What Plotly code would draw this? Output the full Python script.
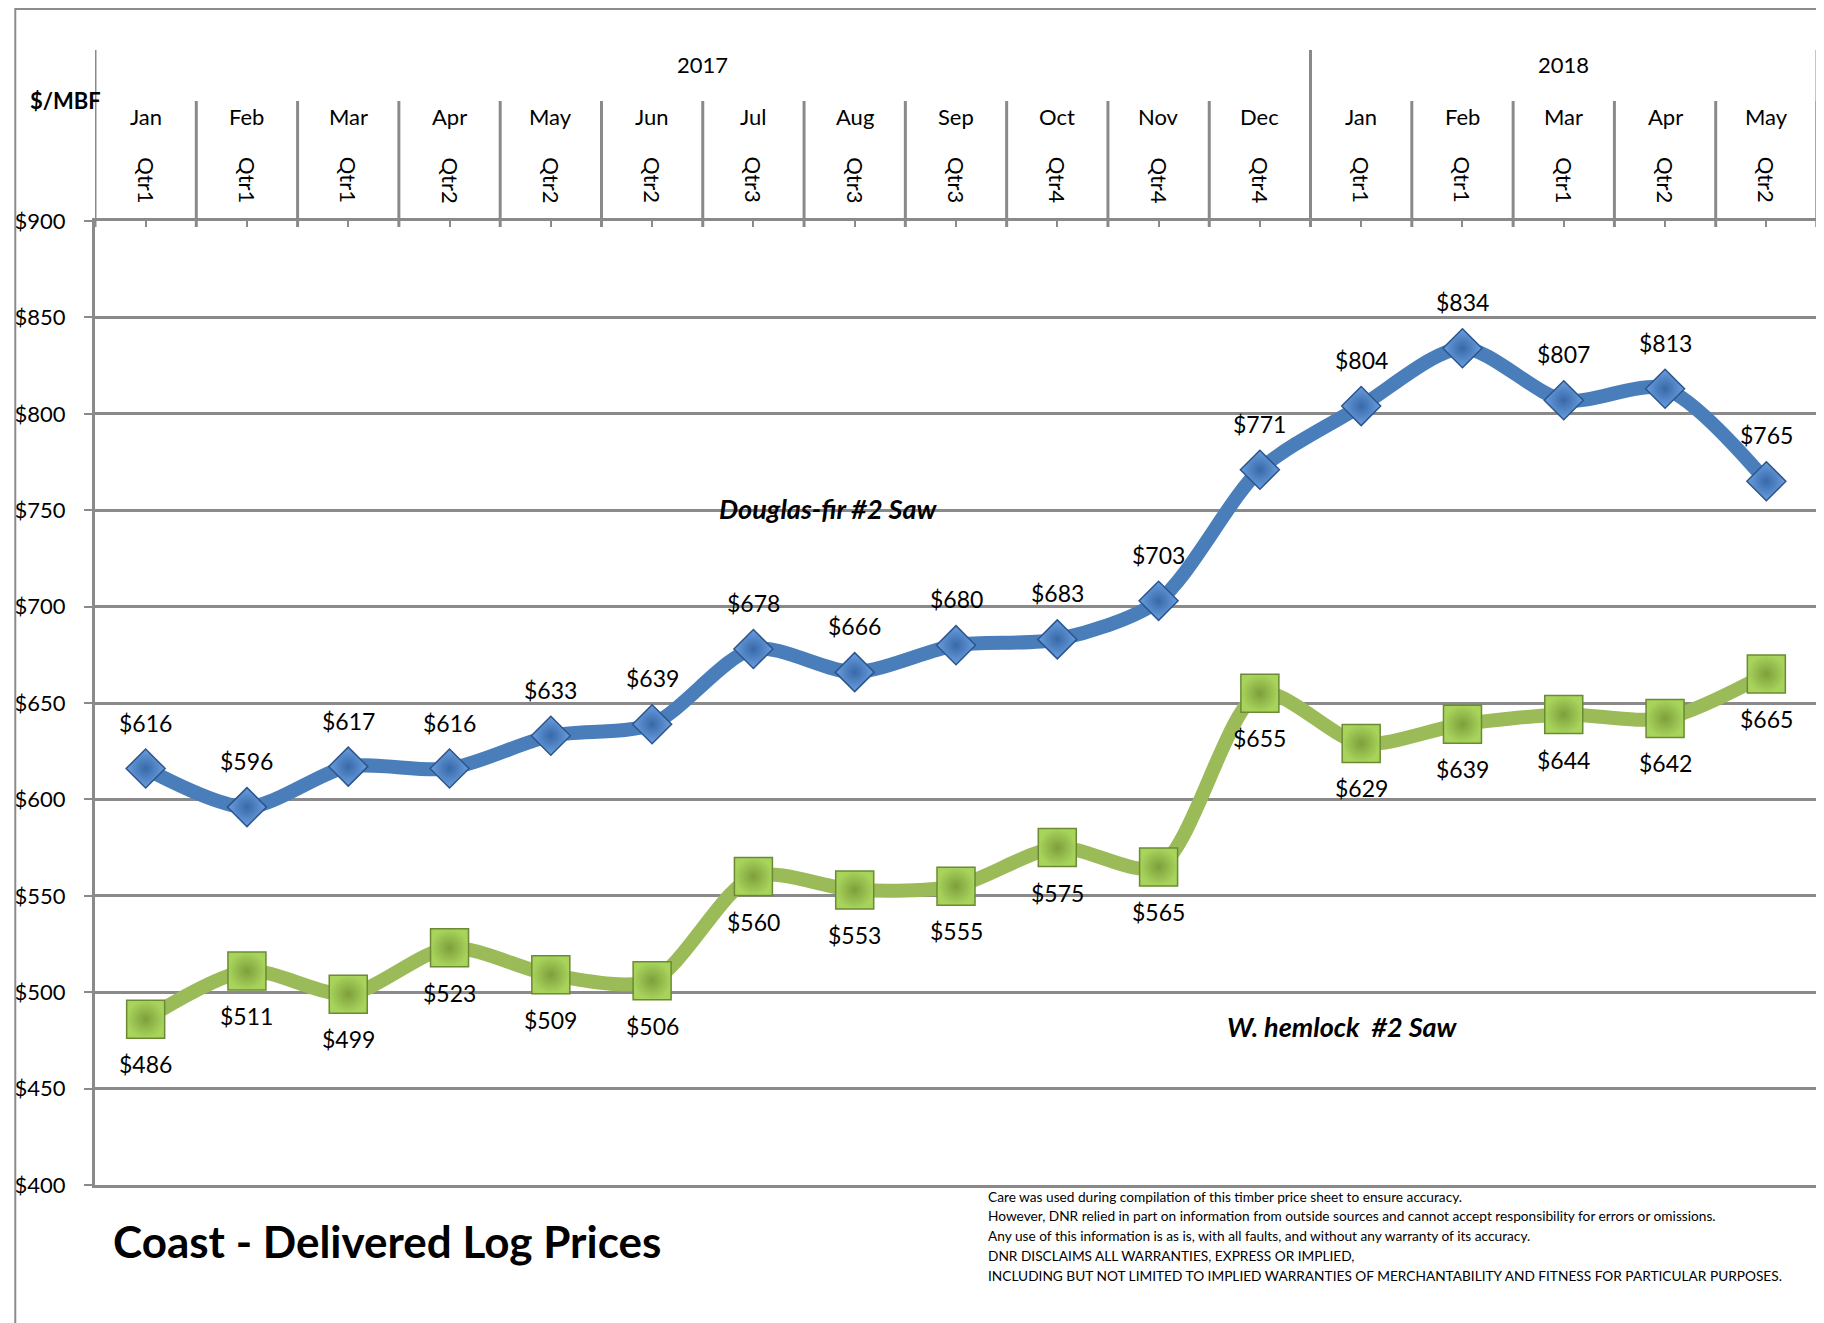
import plotly.graph_objects as go

# ---------------- data ----------------
months = ["Jan", "Feb", "Mar", "Apr", "May", "Jun", "Jul", "Aug", "Sep", "Oct", "Nov", "Dec",
          "Jan", "Feb", "Mar", "Apr", "May"]
quarters = ["Qtr1", "Qtr1", "Qtr1", "Qtr2", "Qtr2", "Qtr2", "Qtr3", "Qtr3", "Qtr3",
            "Qtr4", "Qtr4", "Qtr4", "Qtr1", "Qtr1", "Qtr1", "Qtr2", "Qtr2"]
years = ["2017", "2018"]
year_counts = [12, 5]
douglas_fir = [616, 596, 617, 616, 633, 639, 678, 666, 680, 683, 703, 771, 804, 834, 807, 813, 765]
hemlock = [486, 511, 499, 523, 509, 506, 560, 553, 555, 575, 565, 655, 629, 639, 644, 642, 665]
y_ticks = [400, 450, 500, 550, 600, 650, 700, 750, 800, 850, 900]

disclaimer = [
    "Care was used during compilation of this timber price sheet to ensure accuracy.",
    "However, DNR relied in part on information from outside sources and cannot accept responsibility for errors or omissions.",
    "Any use of this information is as is, with all faults, and without any warranty of its accuracy.",
    "DNR DISCLAIMS ALL WARRANTIES, EXPRESS OR IMPLIED,",
    "INCLUDING BUT NOT LIMITED TO IMPLIED WARRANTIES OF MERCHANTABILITY AND FITNESS FOR PARTICULAR PURPOSES.",
]

FONT = "Lato"
GRID = "#8A8A8A"
OFF = 8  # page body margin
W, H = 1824 - OFF, 1323 - OFF
# plot area in page pixels: x 89..1817, y 221..1185
L, R, T, B = 89 - OFF, W - (1817 - OFF), 221 - OFF, H - (1185 - OFF)
PW, PH = W - L - R, H - T - B


def py(pix):  # page pixel row -> paper y
    return (H - B - (pix - OFF)) / PH


def px(pix):  # page pixel col -> paper x
    return ((pix - OFF) - L) / PW


xs = list(range(len(months)))

fig = go.Figure()
fig.add_trace(go.Scatter(
    x=xs, y=douglas_fir, mode="lines+markers", name="Douglas-fir #2 Saw",
    line=dict(color="#4A7EBB", width=14, shape="spline", smoothing=0.8),
    marker=dict(symbol="diamond", size=30, color="#6A9FE0",
                gradient=dict(type="radial", color="#3868A8"),
                line=dict(color="#2C558A", width=1.5)),
    cliponaxis=False, showlegend=False))
fig.add_trace(go.Scatter(
    x=xs, y=hemlock, mode="lines+markers", name="W. hemlock #2 Saw",
    line=dict(color="#9BBB59", width=14, shape="spline", smoothing=0.8),
    marker=dict(symbol="square", size=38, color="#A8D45C",
                gradient=dict(type="radial", color="#7E9F3C"),
                line=dict(color="#6B8A33", width=1.5)),
    cliponaxis=False, showlegend=False))

ann = []
shapes = []
txt = dict(family=FONT, size=22, color="black")
# data labels
for i, v in enumerate(douglas_fir):
    ann.append(dict(x=i, y=v, xref="x", yref="y", text=f"${v}", showarrow=False,
                    xanchor="center", yanchor="middle", yshift=46,
                    font=dict(family=FONT, size=23, color="black")))
for i, v in enumerate(hemlock):
    ann.append(dict(x=i, y=v, xref="x", yref="y", text=f"${v}", showarrow=False,
                    xanchor="center", yanchor="middle", yshift=-45,
                    font=dict(family=FONT, size=23, color="black")))

# header: months, quarters, separators
for i, (m, q) in enumerate(zip(months, quarters)):
    ann.append(dict(x=i, y=py(117), xref="x", yref="paper", text=m, showarrow=False,
                    xanchor="center", yanchor="middle", font=txt))
    ann.append(dict(x=i, y=py(180), xref="x", yref="paper", text=q, showarrow=False,
                    xanchor="center", yanchor="middle", textangle=90, font=txt))
    shapes.append(dict(type="line", xref="x", yref="paper", x0=i + 0.5, x1=i + 0.5,
                       y0=py(101), y1=py(227), line=dict(color=GRID, width=3)))

start = 0
for yr, n in zip(years, year_counts):
    ann.append(dict(x=start + (n - 1) / 2, y=py(65), xref="x", yref="paper", text=yr,
                    showarrow=False, xanchor="center", yanchor="middle", font=txt))
    for b in (start - 0.5, start + n - 0.5):
        shapes.append(dict(type="line", xref="x", yref="paper", x0=b, x1=b,
                           y0=py(50), y1=py(227), line=dict(color=GRID, width=3)))
    start += n

# unit label
ann.append(dict(x=px(59), y=py(100), xref="paper", yref="paper", text="<b>$/MBF</b>",
                showarrow=False, xanchor="center", yanchor="middle", font=txt))

# series names
ann.append(dict(x=6.74, y=751, xref="x", yref="y", text="<b><i>Douglas-fir #2 Saw</i></b>",
                showarrow=False, xanchor="center", yanchor="middle",
                font=dict(family=FONT, size=27, color="black")))
ann.append(dict(x=11.82, y=482, xref="x", yref="y", text="<b><i>W. hemlock  #2 Saw</i></b>",
                showarrow=False, xanchor="center", yanchor="middle",
                font=dict(family=FONT, size=27, color="black")))

# title
ann.append(dict(x=px(105), y=py(1241), xref="paper", yref="paper", xanchor="left",
                yanchor="middle", text="<b>Coast - Delivered Log Prices</b>", showarrow=False,
                font=dict(family=FONT, size=44, color="black")))

# disclaimer
for k, line in enumerate(disclaimer):
    ann.append(dict(x=px(983), y=py(1196 + 19.8 * k), xref="paper", yref="paper",
                    xanchor="left", yanchor="middle", text=line, showarrow=False,
                    font=dict(family=FONT, size=13.7, color="black")))

# outer border
shapes.append(dict(type="rect", xref="paper", yref="paper", x0=px(OFF + 1), x1=px(1822),
                   y0=py(1400), y1=py(OFF + 1), line=dict(color="#8C8C8C", width=2)))

fig.update_layout(
    width=W, height=H,
    margin=dict(l=L, r=R, t=T, b=B),
    paper_bgcolor="white", plot_bgcolor="white",
    annotations=ann, shapes=shapes,
    xaxis=dict(range=[-0.5, len(months) - 0.5], side="top", showgrid=False, zeroline=False,
               tickvals=xs, showticklabels=False, ticks="inside", ticklen=6, tickwidth=2,
               tickcolor=GRID, showline=True, linecolor=GRID, linewidth=3, mirror=True),
    yaxis=dict(range=[400, 900], tickvals=y_ticks, ticktext=[f"${v}" for v in y_ticks],
               showgrid=True, gridcolor=GRID, gridwidth=2.5, zeroline=False, showline=True,
               linecolor=GRID, linewidth=3, ticks="outside", ticklen=8, tickwidth=2,
               tickcolor=GRID, ticklabelstandoff=14,
               tickfont=dict(family=FONT, size=22, color="black")),
    font=dict(family=FONT, color="black"),
)

fig.write_html("out.html")
